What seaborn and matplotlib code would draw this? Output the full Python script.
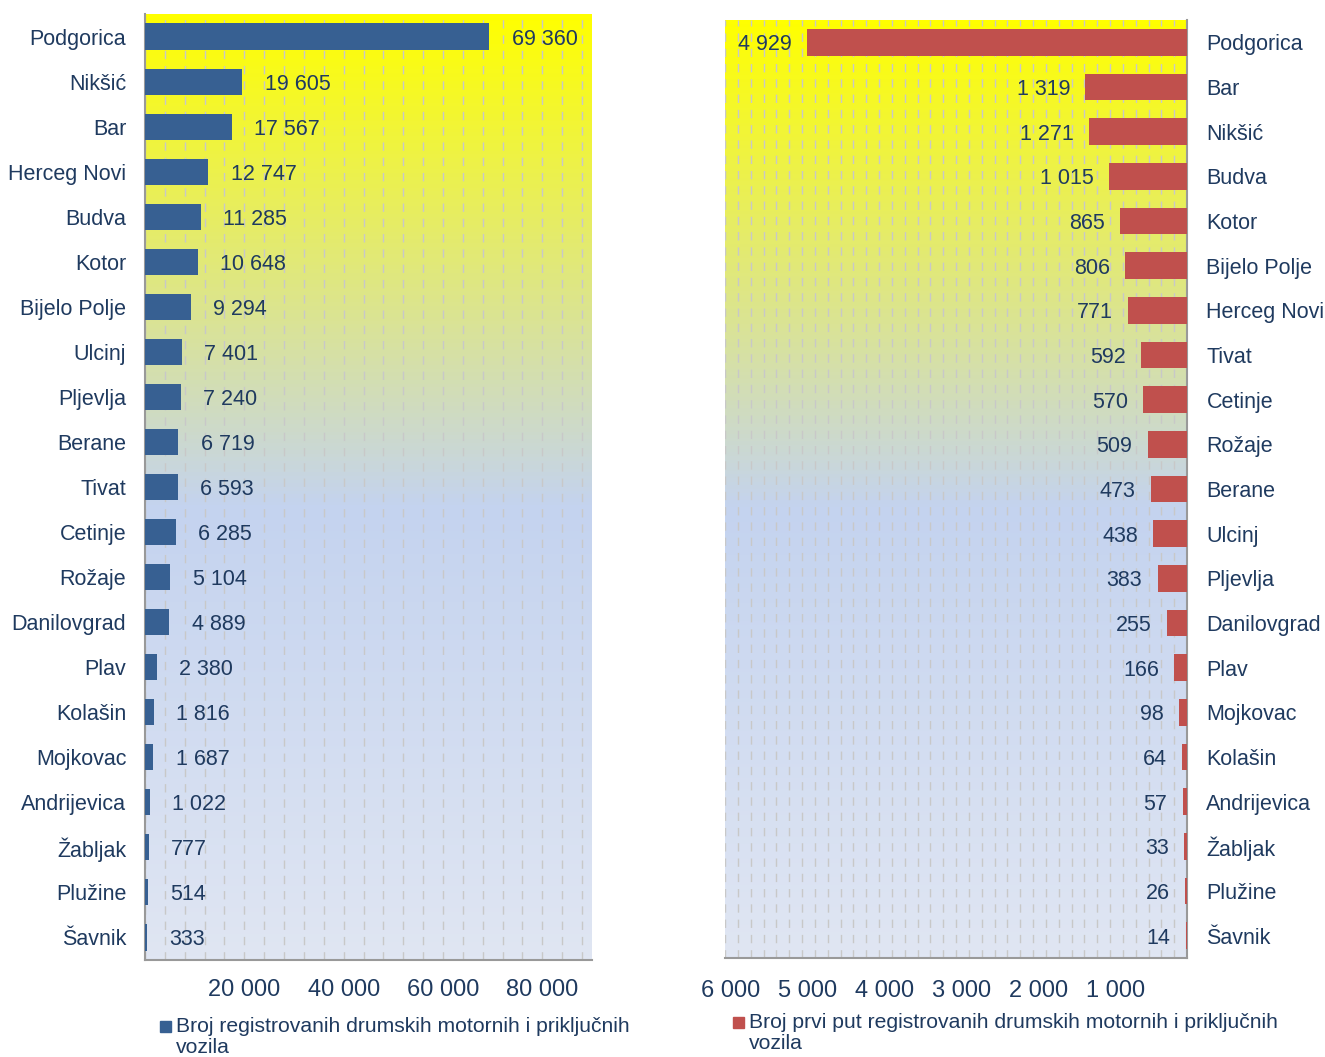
import numpy as np
import matplotlib
matplotlib.use("Agg")
import matplotlib.pyplot as plt
import matplotlib.transforms as mtransforms
import seaborn as sns
from matplotlib.colors import LinearSegmentedColormap
from matplotlib.patches import Rectangle
from matplotlib.ticker import MultipleLocator, FuncFormatter

# Data
left_cities = ["Podgorica", "Nikšić", "Bar", "Herceg Novi", "Budva", "Kotor",
               "Bijelo Polje", "Ulcinj", "Pljevlja", "Berane", "Tivat", "Cetinje",
               "Rožaje", "Danilovgrad", "Plav", "Kolašin", "Mojkovac",
               "Andrijevica", "Žabljak", "Plužine", "Šavnik"]
left_values = [69360, 19605, 17567, 12747, 11285, 10648, 9294, 7401, 7240, 6719,
               6593, 6285, 5104, 4889, 2380, 1816, 1687, 1022, 777, 514, 333]

right_cities = ["Podgorica", "Bar", "Nikšić", "Budva", "Kotor", "Bijelo Polje",
                "Herceg Novi", "Tivat", "Cetinje", "Rožaje", "Berane", "Ulcinj",
                "Pljevlja", "Danilovgrad", "Plav", "Mojkovac", "Kolašin",
                "Andrijevica", "Žabljak", "Plužine", "Šavnik"]
right_values = [4929, 1319, 1271, 1015, 865, 806, 771, 592, 570, 509, 473, 438,
                383, 255, 166, 98, 64, 57, 33, 26, 14]

left_label = "Broj registrovanih drumskih motornih i priključnih\nvozila"
right_label = "Broj prvi put registrovanih drumskih motornih i priključnih\nvozila"

sns.set_style("white")
plt.rcParams["font.family"] = ["Liberation Sans", "DejaVu Sans"]

text_color = "#1f3a5f"
blue = "#376092"
red = "#c0504d"
grid_color = "#c8c8c8"

W, H = 1325, 1057
fig = plt.figure(figsize=(W / 100, H / 100), dpi=100)

bg_cmap = LinearSegmentedColormap.from_list(
    "bg", [(0.0, "#ffff00"), (0.52, "#c4d3ef"), (1.0, "#e0e6f3")])
grad = np.linspace(0, 1, 256).reshape(-1, 1)


def space_fmt(v, pos=None):
    return f"{int(round(v)):,}".replace(",", " ")


def make_axes(rect):
    bg = fig.add_axes(rect, zorder=0)
    bg.imshow(grad, cmap=bg_cmap, aspect="auto", extent=[0, 1, 0, 1])
    bg.axis("off")
    ax = fig.add_axes(rect, zorder=1)
    ax.set_facecolor("none")
    return ax


def add_legend(x_px, y_px, color, label):
    fig.patches.append(Rectangle((x_px / W, 1 - (y_px + 5.5) / H), 11 / W, 11 / H,
                                 transform=fig.transFigure, color=color))
    fig.text((x_px + 16) / W, 1 - (y_px - 9) / H, label, fontsize=15.2,
             color=text_color, va="top", ha="left", linespacing=1.12)


# Left panel
axL = make_axes([145 / W, 1 - 960 / H, 447 / W, 946 / H])
df_left = {"city": left_cities, "value": left_values}
sns.barplot(data=df_left, x="value", y="city", color=blue, orient="h",
            width=0.58, ax=axL, saturation=1, linewidth=0, zorder=3)
axL.set_xlim(0, 90000)
axL.set_ylim(len(left_cities) - 0.5, -0.5)
axL.xaxis.set_major_locator(MultipleLocator(20000))
axL.xaxis.set_minor_locator(MultipleLocator(4000))
axL.xaxis.set_major_formatter(FuncFormatter(lambda v, p: "" if v == 0 else space_fmt(v)))
axL.grid(which="both", axis="x", color=grid_color, linestyle=(0, (6, 5)), linewidth=1, zorder=1)
axL.set_axisbelow(True)
axL.tick_params(axis="x", which="major", length=8, width=1, color="#888888",
                direction="out", labelsize=17, labelcolor=text_color, pad=6)
axL.tick_params(axis="x", which="minor", length=0)
axL.tick_params(axis="y", length=0, labelsize=15.5, labelcolor=text_color, pad=13.5)
for s in ["top", "right"]:
    axL.spines[s].set_visible(False)
for s in ["left", "bottom"]:
    axL.spines[s].set_color("#999999")
    axL.spines[s].set_linewidth(1.5)
axL.set_xlabel("")
axL.set_ylabel("")
for t in axL.bar_label(axL.containers[0], labels=[space_fmt(v) for v in left_values],
                       padding=16, fontsize=15.5, color=text_color):
    t.set_va("center_baseline")
add_legend(160, 1026, blue, left_label)

# Right panel
axR = make_axes([725 / W, 1 - 958 / H, 462 / W, 938 / H])
df_right = {"city": right_cities, "value": right_values}
sns.barplot(data=df_right, x="value", y="city", color=red, orient="h",
            width=0.6, ax=axR, saturation=1, linewidth=0, zorder=3)
axR.set_xlim(6000, 0)
axR.set_ylim(len(right_cities) - 0.5, -0.5)
axR.xaxis.set_major_locator(MultipleLocator(1000))
axR.xaxis.set_minor_locator(MultipleLocator(1000 / 6))
axR.xaxis.set_major_formatter(FuncFormatter(lambda v, p: "" if v == 0 else space_fmt(v)))
axR.grid(which="both", axis="x", color=grid_color, linestyle=(0, (6, 5)), linewidth=1, zorder=1)
axR.set_axisbelow(True)
axR.tick_params(axis="x", which="both", length=0, labelsize=17,
                labelcolor=text_color, pad=15.5)
shift = mtransforms.ScaledTranslation(6 / 100, 0, fig.dpi_scale_trans)
for lbl in axR.get_xticklabels():
    lbl.set_transform(lbl.get_transform() + shift)
axR.yaxis.tick_right()
axR.tick_params(axis="y", length=0, labelsize=15.5, labelcolor=text_color, pad=14)
for s in ["top", "left"]:
    axR.spines[s].set_visible(False)
for s in ["right", "bottom"]:
    axR.spines[s].set_color("#999999")
    axR.spines[s].set_linewidth(1.5)
axR.set_xlabel("")
axR.set_ylabel("")
for t in axR.bar_label(axR.containers[0], labels=[space_fmt(v) for v in right_values],
                       padding=11, fontsize=15.5, color=text_color):
    t.set_va("center_baseline")
add_legend(733, 1022, red, right_label)

fig.savefig("out.png", dpi=100)
